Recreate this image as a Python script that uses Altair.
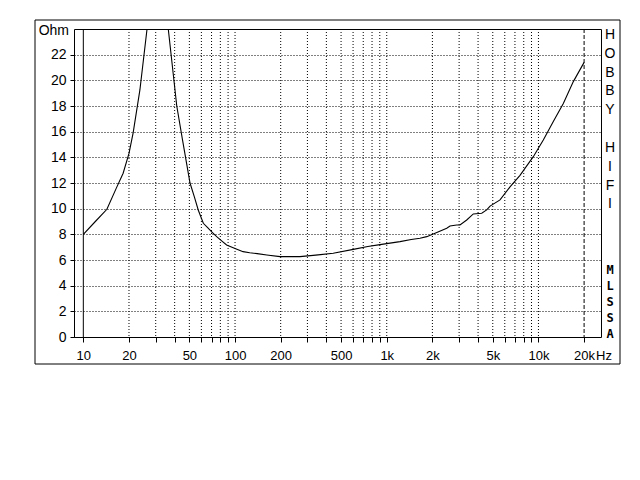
import altair as alt
import pandas as pd

# ---- data ----
freq_hz = [10, 12, 14.3, 16.5, 18.3, 20, 21.3, 23.6, 26.3, 28.5, 31, 33.5, 36.3,
           41.3, 45, 50.5, 54, 57.2, 61.8, 66, 70.2, 75.7, 82, 88, 100, 113, 125,
           140, 162, 198, 268, 340, 444, 602, 750, 903, 1223, 1450, 1656, 1835,
           2100, 2486, 2612, 2893, 3041, 3366, 3721, 4228, 4560, 4797, 5582,
           6496, 7558, 9252, 10766, 12532, 14590, 16980, 20000]
impedance_ohm = [8.0, 9.0, 9.95, 11.6, 12.76, 14.3, 15.9, 19.25, 24.0, 27.5, 30.5, 28.5, 24.0,
                 18.0, 15.4, 12.0, 10.9, 9.9, 8.86, 8.52, 8.2, 7.82, 7.47, 7.17, 6.9, 6.65, 6.57,
                 6.5, 6.39, 6.26, 6.26, 6.38, 6.52, 6.83, 7.05, 7.2, 7.43, 7.6, 7.69, 7.82,
                 8.1, 8.47, 8.65, 8.73, 8.73, 9.12, 9.59, 9.64, 9.9, 10.2, 10.68,
                 11.7, 12.6, 14.05, 15.35, 16.8, 18.2, 19.9, 21.4]

y_ticks = [0, 2, 4, 6, 8, 10, 12, 14, 16, 18, 20, 22]
x_ticks = [10, 20, 30, 40, 50, 60, 70, 80, 90,
           100, 200, 300, 400, 500, 600, 700, 800, 900,
           1000, 2000, 3000, 4000, 5000, 6000, 7000, 8000, 9000,
           10000, 20000]
x_labels = {10: "10", 20: "20", 50: "50", 100: "100", 200: "200", 500: "500",
            1000: "1k", 2000: "2k", 5000: "5k", 10000: "10k", 20000: "20k"}
grid_freqs = [20, 30, 40, 50, 60, 70, 80, 90,
              100, 200, 300, 400, 500, 600, 700, 800, 900,
              1000, 2000, 3000, 4000, 5000, 6000, 7000, 8000, 9000, 10000]
solid_freq = [10]
dashed_freq = [20000]
y_unit = "Ohm"
x_unit = "Hz"
brand_1 = "H\nO\nB\nB\nY"
brand_2 = "H\nI\nF\nI"
system = "M\nL\nS\nS\nA"

# ---- build ----
curve = pd.DataFrame({"f": freq_hz, "z": impedance_ohm})
FONT = "Liberation Sans"

label_expr = "''"
for v in sorted(x_labels, reverse=True):
    label_expr = f"datum.value == {v} ? '{x_labels[v]}' : ({label_expr})"

xscale = alt.Scale(type="log", domain=[8.68, 25845], nice=False, zero=False)
yscale = alt.Scale(domain=[0, 24], nice=False, zero=False)

x_axis = alt.Axis(values=x_ticks, labelExpr=label_expr, grid=False, domain=False,
                  tickSize=5, tickColor="black", labelColor="black", labelFont=FONT,
                  labelFontSize=13, labelPadding=7, labelOverlap=False, labelFlush=False,
                  title=None)
y_axis = alt.Axis(values=y_ticks, grid=True, gridDash=[1, 2], gridColor="black",
                  gridOpacity=1, domain=False, tickSize=4, tickColor="black",
                  labelColor="black", labelFont=FONT, labelFontSize=14, labelPadding=4,
                  title=None)

X = alt.X("f:Q", scale=xscale, axis=x_axis)

grid = alt.Chart(pd.DataFrame({"f": grid_freqs})).mark_rule(
    color="black", strokeWidth=1, strokeDash=[1, 2]
).encode(x=X)

solid = alt.Chart(pd.DataFrame({"f": solid_freq})).mark_rule(
    color="black", strokeWidth=1
).encode(x=X)

dashed = alt.Chart(pd.DataFrame({"f": dashed_freq})).mark_rule(
    color="black", strokeWidth=1, strokeDash=[4, 2]
).encode(x=X)

line = alt.Chart(curve).mark_line(color="black", strokeWidth=1.1, clip=True).encode(
    x=X,
    y=alt.Y("z:Q", scale=yscale, axis=y_axis),
)

one = pd.DataFrame({"a": [0]})

ohm = alt.Chart(one).mark_text(text=y_unit, font=FONT, fontSize=14, align="right",
                               baseline="middle", color="black").encode(
    x=alt.value(-5), y=alt.value(2))

hz = alt.Chart(one).mark_text(text=x_unit, font=FONT, fontSize=13, align="left",
                              baseline="alphabetic", color="black").encode(
    x=alt.value(522), y=alt.value(331))

brand_txt1 = alt.Chart(one).mark_text(text=brand_1, font=FONT, fontSize=14, align="center",
                                      baseline="middle", lineBreak="\n", lineHeight=18.8,
                                      color="black").encode(
    x=alt.value(536), y=alt.value(6))

brand_txt2 = alt.Chart(one).mark_text(text=brand_2, font=FONT, fontSize=14, align="center",
                                      baseline="middle", lineBreak="\n", lineHeight=18.8,
                                      color="black").encode(
    x=alt.value(536), y=alt.value(119))

system_txt = alt.Chart(one).mark_text(text=system, font="DejaVu Sans Mono", fontSize=12,
                                      fontWeight="bold", align="center", baseline="middle",
                                      lineBreak="\n", lineHeight=16, color="black").encode(
    x=alt.value(536), y=alt.value(241))

frame = alt.Chart(one).mark_rect(fill=None, stroke="black", strokeWidth=1).encode(
    x=alt.value(-39), x2=alt.value(546), y=alt.value(-9), y2=alt.value(335))

chart = alt.layer(grid, solid, dashed, line, ohm, hz, brand_txt1, brand_txt2, system_txt,
                  frame).properties(
    width=527, height=308,
    padding={"left": 66, "top": 21, "right": 31, "bottom": 135},
    autosize=alt.AutoSizeParams(type="none"),
    background="white",
).configure_view(stroke="black", strokeWidth=1)

chart.save("out.html", embed_options={"renderer": "svg", "actions": False})
